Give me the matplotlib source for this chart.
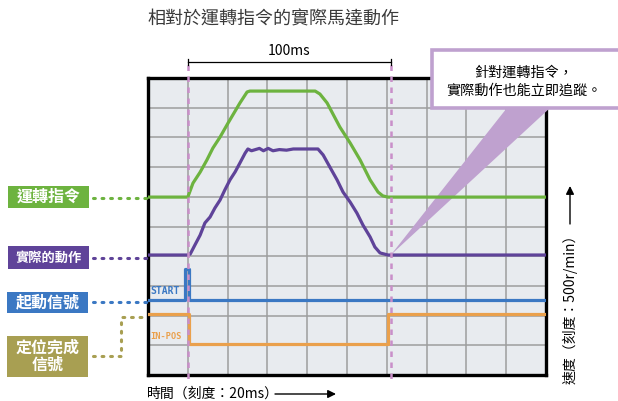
import numpy as np
import matplotlib
matplotlib.use("Agg")
import matplotlib.pyplot as plt
from matplotlib.patches import Rectangle, Polygon

plt.rcParams['font.family'] = ['Noto Sans CJK TC', 'DejaVu Sans']

# 時間（格）與速度（格），每格 20ms / 500r/min
cmd_t = [0, 1.0, 1.13, 1.31, 1.48, 1.63, 1.81, 2.01, 2.31, 2.49, 2.56, 4.20, 4.32, 4.50,
         4.82, 5.08, 5.33, 5.58, 5.78, 5.90, 6.03, 10]
cmd_v = [5.99, 5.99, 6.46, 6.83, 7.24, 7.64, 8.01, 8.48, 9.16, 9.53, 9.56, 9.56, 9.46, 9.16,
         8.35, 7.81, 7.24, 6.57, 6.16, 6.03, 5.99, 5.99]

act_t = [0, 1.0, 1.06, 1.18, 1.31, 1.43, 1.56, 1.68, 1.81, 1.93, 2.06, 2.19, 2.31, 2.44,
         2.51, 2.60, 2.80, 2.90, 3.02, 3.14, 3.30, 3.48, 3.65, 4.27, 4.40, 4.57, 4.75,
         4.90, 5.08, 5.25, 5.40, 5.58, 5.70, 5.83, 6.03, 10]
act_v = [4.04, 4.04, 4.07, 4.38, 4.71, 5.12, 5.32, 5.62, 5.89, 6.23, 6.57, 6.84, 7.14, 7.47,
         7.61, 7.55, 7.63, 7.55, 7.63, 7.55, 7.59, 7.57, 7.61, 7.61, 7.41, 7.00, 6.57,
         6.16, 5.82, 5.45, 5.05, 4.65, 4.31, 4.11, 4.04, 4.04]

start_t = [0, 0.92, 0.92, 1.03, 1.03, 10]
start_v = [2.53, 2.53, 3.57, 3.57, 2.53, 2.53]

inpos_t = [0, 1.03, 1.03, 6.03, 6.03, 10]
inpos_v = [2.05, 2.05, 1.05, 1.05, 2.05, 2.05]

mark_t = [1.0, 6.1]  # 100ms 區間

GREEN = '#6db33f'
PURPLE = '#5f4399'
BLUE = '#3b78c3'
ORANGE = '#eaa04c'
OLIVE = '#a89f52'
LAV = '#bfa1cf'
DASH = '#c98fc9'

W, H = 618, 401
fig = plt.figure(figsize=(W / 100, H / 100), dpi=100)

# 主圖區
L, R, T, B = 148, 546, 78, 375
ax = fig.add_axes([L / W, 1 - B / H, (R - L) / W, (B - T) / H])
ax.set_zorder(1)
ax.set_facecolor('#e8ebef')
ax.set_xlim(0, 10)
ax.set_ylim(0, 10)
ax.set_xticks(np.arange(0, 11))
ax.set_yticks(np.arange(0, 11))
ax.grid(True, color='#9d9d9d', lw=1.1)
ax.tick_params(length=0, labelbottom=False, labelleft=False)
for s in ax.spines.values():
    s.set_linewidth(2.4)
    s.set_color('black')
    s.set_zorder(2.5)

ax.plot(cmd_t, cmd_v, color=GREEN, lw=2.3, zorder=4, solid_joinstyle='round')
ax.plot(act_t, act_v, color=PURPLE, lw=2.3, zorder=4, solid_joinstyle='round')
ax.plot(start_t, start_v, color=BLUE, lw=2.3, zorder=4)
ax.plot(inpos_t, inpos_v, color=ORANGE, lw=2.3, zorder=4)
ax.text(0.05, 2.65, 'START', color=BLUE, fontsize=7, family='DejaVu Sans Mono',
        fontweight='bold', va='bottom', ha='left', zorder=4)
ax.text(0.05, 1.15, 'IN-POS', color=ORANGE, fontsize=6.2, family='DejaVu Sans Mono',
        fontweight='bold', va='bottom', ha='left', zorder=4)

# 說明框的指向三角形
tri = Polygon([[6.1, 4.04], [9.2, 9.3], [10.35, 9.3]], closed=True,
              facecolor=LAV, edgecolor='none', zorder=3, clip_on=False)
ax.add_patch(tri)

# 覆蓋層（像素座標）
ov = fig.add_axes([0, 0, 1, 1])
ov.set_zorder(5)
ov.set_xlim(0, W)
ov.set_ylim(H, 0)
ov.axis('off')
ov.patch.set_alpha(0)

def px(t):
    return L + t * (R - L) / 10

for t in mark_t:
    ov.plot([px(t), px(t)], [65, 381], color=DASH, lw=1.8, ls=(0, (2.2, 2.2)))

ov.text(147, 20, '相對於運轉指令的實際馬達動作', fontsize=13, color='#3a3a3a',
        ha='left', va='center')

x0, x1 = px(mark_t[0]), px(mark_t[1])
ov.plot([x0, x1], [62, 62], color='black', lw=0.9)
ov.plot([x0, x0], [59, 65], color='black', lw=0.9)
ov.plot([x1, x1], [59, 65], color='black', lw=0.9)
ov.text((x0 + x1) / 2, 51, '100ms', fontsize=10, ha='center', va='center')

# 說明框
ov.add_patch(Rectangle((432, 50), 200, 58, facecolor='white', edgecolor=LAV,
                       lw=2.6, clip_on=False))
ov.text(524, 73, '針對運轉指令，', fontsize=10.2, ha='center', va='center')
ov.text(524, 91, '實際動作也能立即追蹤。', fontsize=10.2, ha='center', va='center')

# 左側標籤
labels = ['運轉指令', '實際的動作', '起動信號', '定位完成\n信號']
label_colors = [GREEN, PURPLE, BLUE, OLIVE]
boxes = [(8, 186, 208), (8, 246, 269), (7, 292, 313), (7, 336, 377)]
sizes = [11.5, 9.5, 11.5, 11.5]
for lab, c, (bx, y0, y1), fs in zip(labels, label_colors, boxes, sizes):
    ov.add_patch(Rectangle((bx, y0), 81, y1 - y0, facecolor=c, edgecolor='none'))
    ov.text(bx + 40.5, (y0 + y1) / 2, lab, fontsize=fs, color='white', ha='center',
            va='center', fontweight='bold', linespacing=1.1)

dot = dict(lw=2.2, ls=(0, (0.6, 2.2)), dash_capstyle='round')
ov.plot([93, 147], [198, 198], color=GREEN, **dot)
ov.plot([93, 147], [258, 258], color=PURPLE, **dot)
ov.plot([93, 147], [302, 302], color=BLUE, **dot)
ov.plot([93, 121, 121, 147], [356, 356, 317, 317], color=OLIVE, **dot)

# 座標軸說明
ov.text(147, 394, '時間（刻度：20ms）', fontsize=10, ha='left', va='center')
ov.annotate('', xy=(336, 394), xytext=(275, 394),
            arrowprops=dict(arrowstyle='-|>', color='black', lw=1.0,
                            mutation_scale=12, shrinkA=0, shrinkB=0))
ov.text(570, 306, '速度（刻度：500r/min）', fontsize=10, rotation=90,
        ha='center', va='center')
ov.annotate('', xy=(570, 186), xytext=(570, 224),
            arrowprops=dict(arrowstyle='-|>', color='black', lw=1.0,
                            mutation_scale=12, shrinkA=0, shrinkB=0))

fig.savefig('out.png', dpi=100)
